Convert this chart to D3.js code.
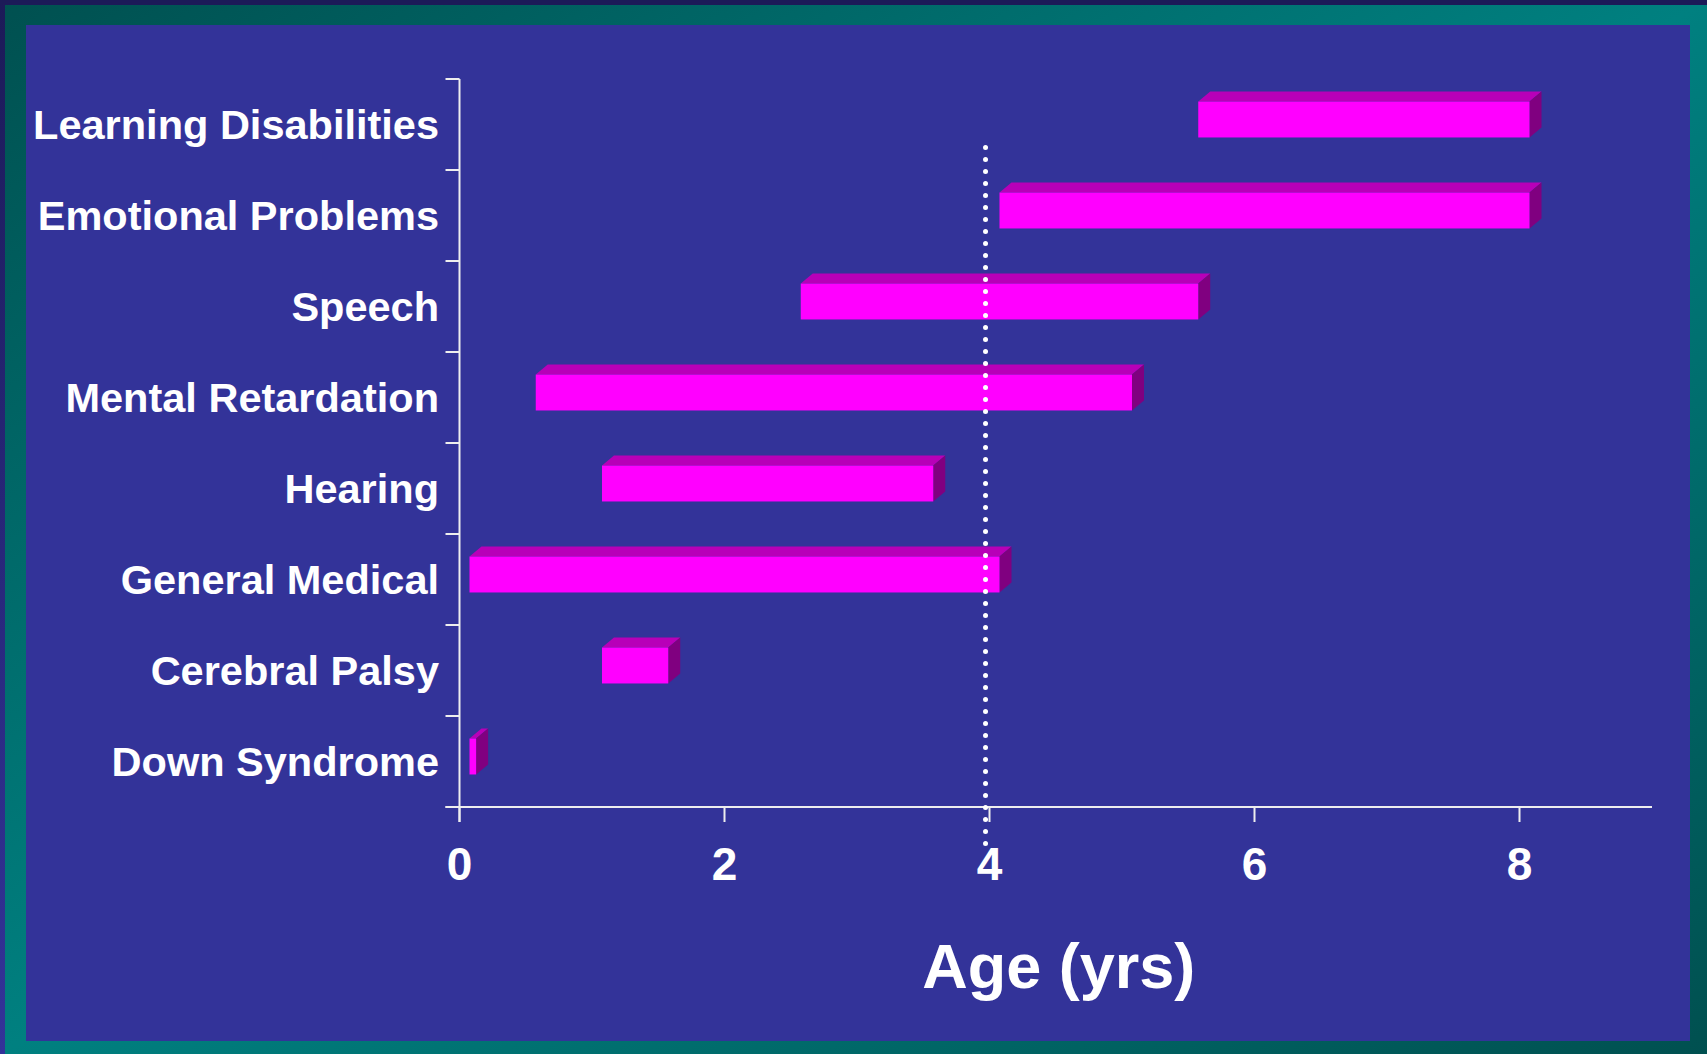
<!DOCTYPE html>
<html>
<head>
<meta charset="utf-8">
<script src="https://cdn.jsdelivr.net/npm/d3@7/dist/d3.min.js"></script>
<style>
  html, body { margin: 0; padding: 0; background: #333399; }
  svg { display: block; }
  text { font-family: "Liberation Sans", Arial, sans-serif; font-weight: bold; fill: #ffffff; }
</style>
</head>
<body>
<svg id="chart" width="1707" height="1054"></svg>
<script>
// ---- data ----
const categories = ["Learning Disabilities", "Emotional Problems", "Speech", "Mental Retardation",
                    "Hearing", "General Medical", "Cerebral Palsy", "Down Syndrome"];
const startAges = [5.5, 4.0, 2.5, 0.5, 1.0, 0.0, 1.0, 0.0];
const endAges   = [8.0, 8.0, 5.5, 5.0, 3.5, 4.0, 1.5, 0.05];
const xTickValues = [0, 2, 4, 6, 8];
const xDomain = [0, 9];
const cutoffAge = 3.97;
const xTitle = "Age (yrs)";

// ---- setup ----
const W = 1707, H = 1054;
const svg = d3.select("#chart");
const defs = svg.append("defs");

const fg = defs.append("linearGradient").attr("id", "frameGrad")
  .attr("x1", "0").attr("y1", "0").attr("x2", "1").attr("y2", "1");
fg.append("stop").attr("offset", "0").attr("stop-color", "#005050");
fg.append("stop").attr("offset", "0.5").attr("stop-color", "#008080");
fg.append("stop").attr("offset", "1").attr("stop-color", "#005050");

const lg = defs.append("linearGradient").attr("id", "leftGrad")
  .attr("x1", "0").attr("y1", "0").attr("x2", "0").attr("y2", "1");
lg.append("stop").attr("offset", "0").attr("stop-color", "#1c1a58");
lg.append("stop").attr("offset", "1").attr("stop-color", "#333399");

// frame
svg.append("rect").attr("width", W).attr("height", H).attr("fill", "url(#frameGrad)");
svg.append("rect").attr("x", 0).attr("y", 0).attr("width", W).attr("height", 5).attr("fill", "#1c1a58");
svg.append("rect").attr("x", 0).attr("y", 0).attr("width", 5).attr("height", H).attr("fill", "url(#leftGrad)");
svg.append("rect").attr("x", 26).attr("y", 25).attr("width", 1664).attr("height", 1016).attr("fill", "#333399");

// scales
const plotLeft = 459.5, plotRight = 1652, plotTop = 79, plotBottom = 807;
const x = d3.scaleLinear().domain(xDomain).range([plotLeft, plotRight]);
const y = d3.scaleBand().domain(categories).range([plotTop, plotBottom]).padding(0);
const step = y.step();

const axisColor = "#eeeeee";

// y axis line (extends below x axis)
svg.append("line").attr("x1", plotLeft).attr("x2", plotLeft)
  .attr("y1", plotTop).attr("y2", plotBottom + 15)
  .attr("stroke", axisColor).attr("stroke-width", 2);
// y ticks at band boundaries
const boundaries = categories.map(c => y(c)).concat([plotBottom]);
svg.selectAll("line.ytick").data(boundaries).enter().append("line")
  .attr("class", "ytick")
  .attr("x1", plotLeft - 14).attr("x2", plotLeft)
  .attr("y1", d => d).attr("y2", d => d)
  .attr("stroke", axisColor).attr("stroke-width", 2);

// x axis line
svg.append("line").attr("x1", plotLeft - 14).attr("x2", x(xDomain[1]))
  .attr("y1", plotBottom).attr("y2", plotBottom)
  .attr("stroke", axisColor).attr("stroke-width", 2);
svg.selectAll("line.xtick").data(xTickValues).enter().append("line")
  .attr("class", "xtick")
  .attr("x1", d => x(d)).attr("x2", d => x(d))
  .attr("y1", plotBottom).attr("y2", plotBottom + 15)
  .attr("stroke", axisColor).attr("stroke-width", 2);
svg.selectAll("text.xlab").data(xTickValues).enter().append("text")
  .attr("class", "xlab")
  .attr("x", d => x(d)).attr("y", 880)
  .attr("text-anchor", "middle")
  .attr("font-size", 46)
  .text(d => d);

// category labels
svg.selectAll("text.ylab").data(categories).enter().append("text")
  .attr("class", "ylab")
  .attr("x", 439).attr("y", d => y(d) + step / 2)
  .attr("dy", "0.35em")
  .attr("text-anchor", "end")
  .attr("font-size", 41.5)
  .text(d => d);

// x title
svg.append("text").attr("x", (plotLeft + plotRight) / 2 + 3).attr("y", 988)
  .attr("text-anchor", "middle").attr("font-size", 63).text(xTitle);

// 3D bars
const shift = 10, dx = 12, dy = 10;
const faceH = step * 0.395;
const bars = categories.map((c, i) => ({ c, s: startAges[i], e: endAges[i] }));
const g = svg.append("g");
bars.forEach(b => {
  const x0 = x(b.s) + shift, x1 = x(b.e) + shift;
  const y0 = y(b.c) + (step - faceH) / 2 - 5, y1 = y0 + faceH;
  // top face
  g.append("path")
    .attr("d", `M${x0},${y0} L${x0 + dx},${y0 - dy} L${x1 + dx},${y0 - dy} L${x1},${y0} Z`)
    .attr("fill", "#b800b8");
  // side face
  g.append("path")
    .attr("d", `M${x1},${y0} L${x1 + dx},${y0 - dy} L${x1 + dx},${y1 - dy} L${x1},${y1} Z`)
    .attr("fill", "#800080");
  // front face
  g.append("rect").attr("x", x0).attr("y", y0)
    .attr("width", Math.max(1, x1 - x0)).attr("height", faceH)
    .attr("fill", "#ff00ff");
});

// dotted cutoff line
svg.append("line")
  .attr("x1", x(cutoffAge)).attr("x2", x(cutoffAge))
  .attr("y1", 147.5).attr("y2", 850)
  .attr("stroke", "#ffffff").attr("stroke-width", 5)
  .attr("stroke-linecap", "round").attr("stroke-dasharray", "0,12");
</script>
</body>
</html>
